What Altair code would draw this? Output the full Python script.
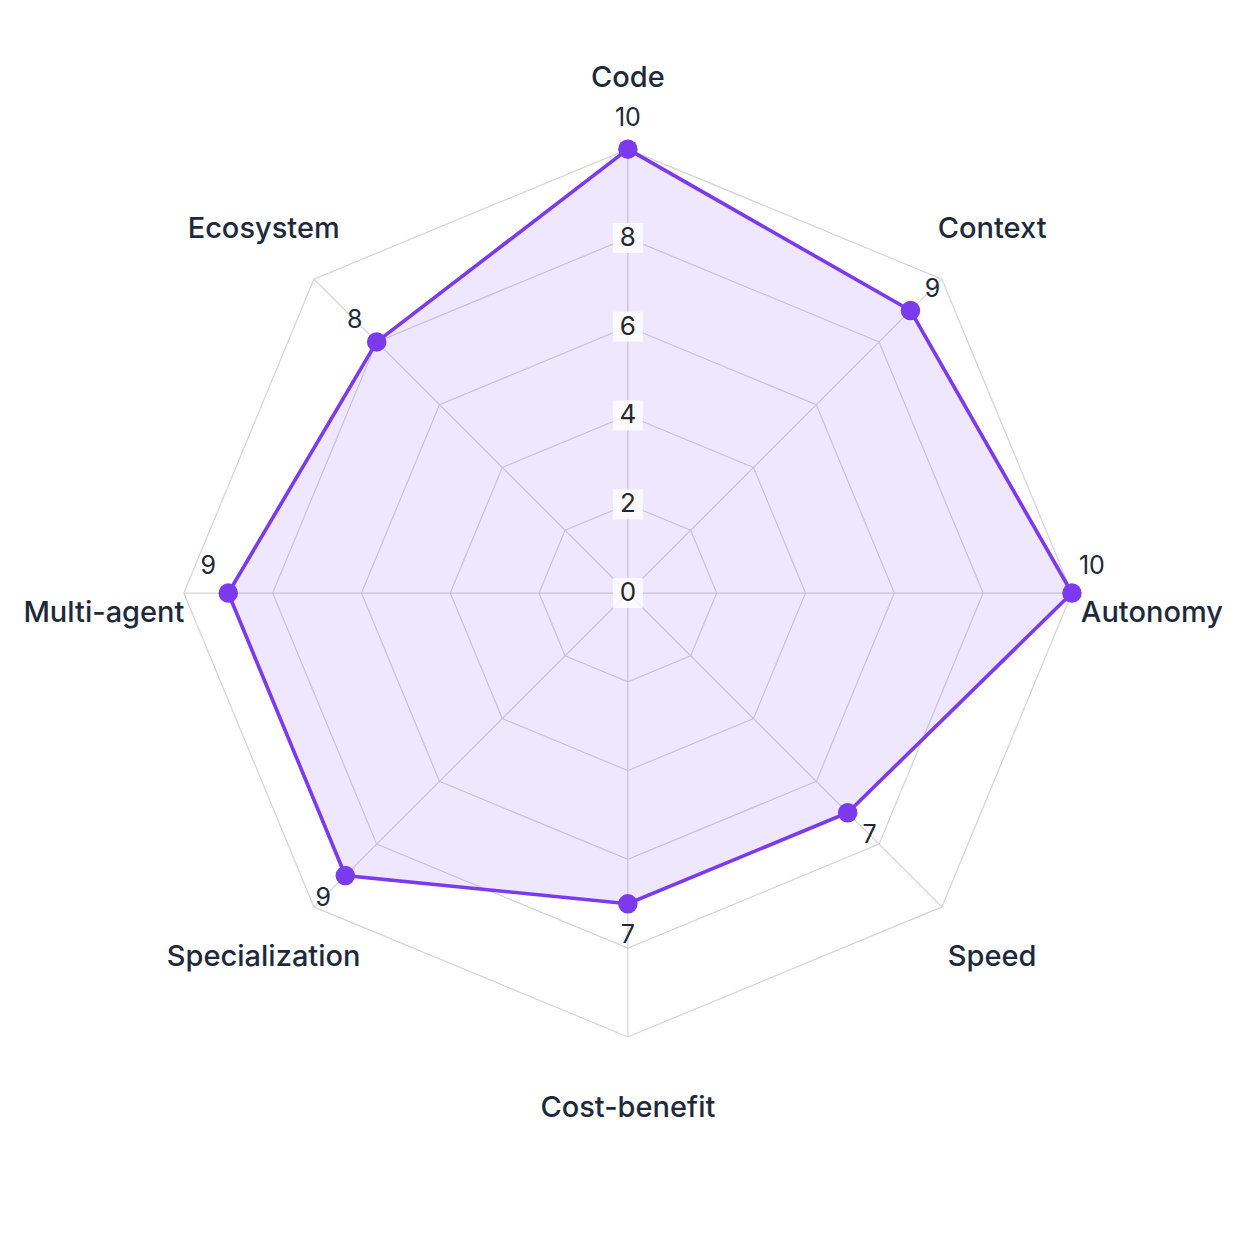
import altair as alt
import pandas as pd

categories = ["Code", "Context", "Autonomy", "Speed", "Cost-benefit",
              "Specialization", "Multi-agent", "Ecosystem"]
values = [10, 9, 10, 7, 7, 9, 9, 8]
tick_values = [0, 2, 4, 6, 8]
ring_values = [2, 4, 6, 8, 10]
max_value = 10

N = len(categories)
LINE = "#7c3aed"
GRID = "#d4d4d8"
TEXT = "#1e293b"
FONT = "Inter"

data = pd.DataFrame({"category": categories, "value": values, "idx": list(range(N))})
grid = pd.DataFrame([{"ring": r, "idx": i} for r in ring_values for i in range(N)])
spokes = pd.DataFrame({"idx": list(range(N)), "r": [max_value] * N})
ticks = pd.DataFrame({"tick": tick_values, "label": [str(t) for t in tick_values]})
labels = pd.DataFrame({"category": categories, "idx": list(range(N))})

xs = alt.Scale(domain=[-14.14, 14.10], nice=False, zero=False)
ys = alt.Scale(domain=[-14.89, 13.36], nice=False, zero=False)

ang = f"datum.idx * 2 * PI / {N}"
horiz = "(abs(sin(datum.a)) > 0.99)"

def X(f):
    return alt.X(f, type="quantitative", scale=xs, axis=None)

def Y(f):
    return alt.Y(f, type="quantitative", scale=ys, axis=None)

rings_layer = alt.Chart(grid).transform_calculate(
    a=ang
).transform_calculate(
    x="datum.ring * sin(datum.a)", y="datum.ring * cos(datum.a)"
).mark_line(interpolate="linear-closed", stroke=GRID, strokeWidth=1.2).encode(
    x=X("x"), y=Y("y"), detail="ring:N", order="idx:Q"
)

spokes_layer = alt.Chart(spokes).transform_calculate(
    a=ang
).transform_calculate(
    x="datum.r * sin(datum.a)", y="datum.r * cos(datum.a)", x0="0", y0="0"
).mark_rule(stroke=GRID, strokeWidth=1.2).encode(
    x=X("x0"), y=Y("y0"), x2="x:Q", y2="y:Q"
)

base = alt.Chart(data).transform_calculate(
    a=ang
).transform_calculate(
    x="datum.value * sin(datum.a)", y="datum.value * cos(datum.a)",
    lx=f"(datum.value + ({horiz} ? 0.45 : 0.7)) * sin(datum.a)",
    ly=f"(datum.value + 0.7) * cos(datum.a) + ({horiz} ? 0.6 : 0)"
)

area_layer = base.mark_line(
    interpolate="linear-closed", fill=LINE, fillOpacity=0.12,
    stroke=LINE, strokeWidth=3.6
).encode(x=X("x"), y=Y("y"), order="idx:Q")

points_layer = base.mark_circle(size=380, color=LINE, opacity=1).encode(
    x=X("x"), y=Y("y")
)

value_text = base.mark_text(font=FONT, fontSize=25, color=TEXT,
                            align="center", baseline="middle").encode(
    x=X("lx"), y=Y("ly"), text="value:Q"
)

tick_bg = alt.Chart(ticks).transform_calculate(x0="0").mark_square(
    size=900, color="white", opacity=0.8
).encode(x=X("x0"), y=Y("tick"))

tick_text = alt.Chart(ticks).transform_calculate(x0="0").mark_text(
    font=FONT, fontSize=26, color="#27272a", align="center", baseline="middle"
).encode(x=X("x0"), y=Y("tick"), text="label:N")

cat_text = alt.Chart(labels).transform_calculate(
    a=ang
).transform_calculate(
    x=f"({horiz} ? 11.8 : 11.6) * sin(datum.a)",
    y=f"({horiz} ? 0 : 11.6) * cos(datum.a) - ({horiz} ? 0.45 : 0)"
).mark_text(font=FONT, fontSize=29, fontWeight=500, color=TEXT,
            align="center", baseline="middle").encode(
    x=X("x"), y=Y("y"), text="category:N"
)

chart = alt.layer(
    rings_layer, spokes_layer, area_layer, tick_bg, tick_text,
    points_layer, value_text, cat_text
).properties(
    width=1254, height=1254, padding=0,
    autosize=alt.AutoSizeParams(type="none"),
    background="white"
).configure_view(stroke=None)

chart.save("out.html", embed_options={"renderer": "svg", "actions": False})
